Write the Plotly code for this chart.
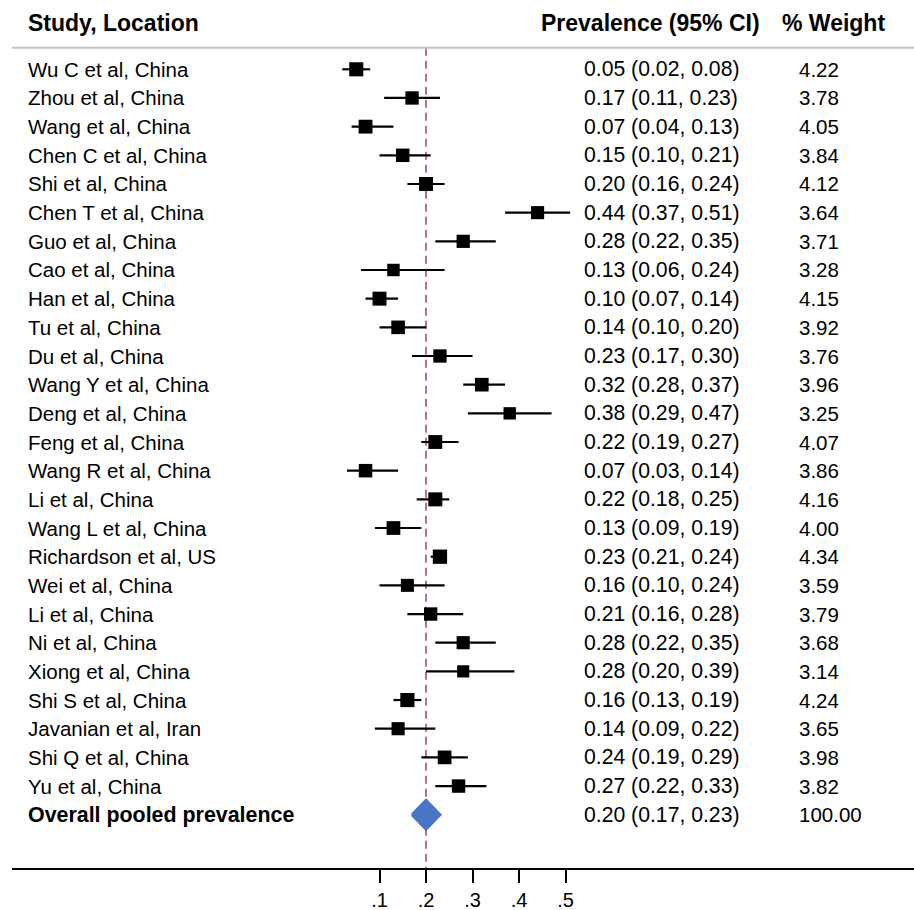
import numpy as np
import plotly.graph_objects as go

studies = ["Wu C et al, China", "Zhou et al, China", "Wang et al, China", "Chen C et al, China",
           "Shi et al, China", "Chen T et al, China", "Guo et al, China", "Cao et al, China",
           "Han et al, China", "Tu et al, China", "Du et al, China", "Wang Y et al, China",
           "Deng et al, China", "Feng et al, China", "Wang R et al, China", "Li et al, China",
           "Wang L et al, China", "Richardson et al, US", "Wei et al, China", "Li et al, China",
           "Ni et al, China", "Xiong et al, China", "Shi S et al, China", "Javanian et al, Iran",
           "Shi Q et al, China", "Yu et al, China"]
est = [0.05, 0.17, 0.07, 0.15, 0.20, 0.44, 0.28, 0.13, 0.10, 0.14, 0.23, 0.32, 0.38, 0.22,
       0.07, 0.22, 0.13, 0.23, 0.16, 0.21, 0.28, 0.28, 0.16, 0.14, 0.24, 0.27]
lo = [0.02, 0.11, 0.04, 0.10, 0.16, 0.37, 0.22, 0.06, 0.07, 0.10, 0.17, 0.28, 0.29, 0.19,
      0.03, 0.18, 0.09, 0.21, 0.10, 0.16, 0.22, 0.20, 0.13, 0.09, 0.19, 0.22]
hi = [0.08, 0.23, 0.13, 0.21, 0.24, 0.51, 0.35, 0.24, 0.14, 0.20, 0.30, 0.37, 0.47, 0.27,
      0.14, 0.25, 0.19, 0.24, 0.24, 0.28, 0.35, 0.39, 0.19, 0.22, 0.29, 0.33]
weight = [4.22, 3.78, 4.05, 3.84, 4.12, 3.64, 3.71, 3.28, 4.15, 3.92, 3.76, 3.96, 3.25, 4.07,
          3.86, 4.16, 4.00, 4.34, 3.59, 3.79, 3.68, 3.14, 4.24, 3.65, 3.98, 3.82]
overall_label = "Overall pooled prevalence"
overall = [0.20, 0.17, 0.23]
overall_weight = 100.00
tick_vals = [0.1, 0.2, 0.3, 0.4, 0.5]
tick_text = [".1", ".2", ".3", ".4", ".5"]

W, H = 914, 910
X0, SC = 333.0, 465.0          # px of value 0, px per unit
ROW0, ROWH = 69.3, 28.67        # px of first row centre, row spacing
AXIS_Y = 869.0                  # px of the bottom axis line

n = len(studies)
rows = np.arange(n)
ov_row = n

est_a, lo_a, hi_a, w_a = map(np.array, (est, lo, hi, weight))

def px_to_row(p):
    return (p - ROW0) / ROWH

FONT = "Arial, Liberation Sans, sans-serif"

fig = go.Figure()

fig.add_trace(go.Scatter(
    x=est_a, y=rows, mode="markers",
    marker=dict(symbol="square", size=14.3 * np.sqrt(w_a / 4.34), color="black",
                opacity=1, line=dict(width=0)),
    error_x=dict(type="data", symmetric=False, array=hi_a - est_a, arrayminus=est_a - lo_a,
                 width=0, thickness=2.2, color="black"),
    hoverinfo="skip", showlegend=False))

# pooled diamond
o_est, o_lo, o_hi = overall
half = 0.5
fig.add_trace(go.Scatter(
    x=[o_lo, o_est, o_hi, o_est, o_lo], y=[ov_row, ov_row - half, ov_row, ov_row + half, ov_row],
    mode="lines", fill="toself", fillcolor="#4a74c4", line=dict(color="#4a74c4", width=3),
    hoverinfo="skip", showlegend=False))

header_row = px_to_row(47.7)

shapes = [
    dict(type="line", xref="paper", yref="y", x0=12 / W, x1=1, y0=header_row, y1=header_row,
         line=dict(color="#c4c4c4", width=2)),
    dict(type="line", xref="paper", yref="paper", x0=12 / W, x1=1, y0=0, y1=0,
         line=dict(color="black", width=2)),
    dict(type="line", xref="x", yref="y", x0=o_est, x1=o_est, y0=header_row, y1=px_to_row(AXIS_Y),
         line=dict(color="#a8505a", width=1.6, dash="8px,5px"), layer="below"),
]

ann = []
def txt(xpx, row, s, size=20.5, bold=False):
    ann.append(dict(xref="paper", yref="y", x=xpx / W, y=row, text=(f"<b>{s}</b>" if bold else s),
                    showarrow=False, xanchor="left", yanchor="middle",
                    font=dict(family=FONT, size=size, color="black")))

hr = px_to_row(22.7)
txt(26, hr, "Study, Location", 23, True)
txt(539, hr, "Prevalence (95% CI)", 23, True)
txt(780, hr, "% Weight", 23, True)

for i in range(n):
    txt(26, i, studies[i])
    txt(582, i, f"{est[i]:.2f} ({lo[i]:.2f}, {hi[i]:.2f})", 21.2)
    txt(797, i, f"{weight[i]:.2f}")
txt(26, ov_row, overall_label, 21.4, True)
txt(582, ov_row, f"{o_est:.2f} ({o_lo:.2f}, {o_hi:.2f})", 21.2)
txt(797, ov_row, f"{overall_weight:.2f}")

fig.update_layout(
    width=W, height=H, margin=dict(l=0, r=0, t=0, b=H - AXIS_Y, pad=0, autoexpand=False),
    paper_bgcolor="white", plot_bgcolor="white",
    shapes=shapes, annotations=ann,
    xaxis=dict(range=[-X0 / SC, (W - X0) / SC], showgrid=False, zeroline=False, showline=False,
               automargin=False,
               tickmode="array", tickvals=tick_vals, ticktext=tick_text,
               ticks="outside", ticklen=13, tickwidth=1.5, tickcolor="black",
               tickfont=dict(family=FONT, size=20, color="black"), fixedrange=True),
    yaxis=dict(range=[px_to_row(AXIS_Y), px_to_row(0)], showgrid=False, zeroline=False,
               automargin=False,
               showline=False, showticklabels=False, ticks="", fixedrange=True),
    font=dict(family=FONT),
)

fig.write_html("out.html", config={"displayModeBar": False},
               post_script="document.body.style.margin='0';document.body.style.overflow='hidden';")
